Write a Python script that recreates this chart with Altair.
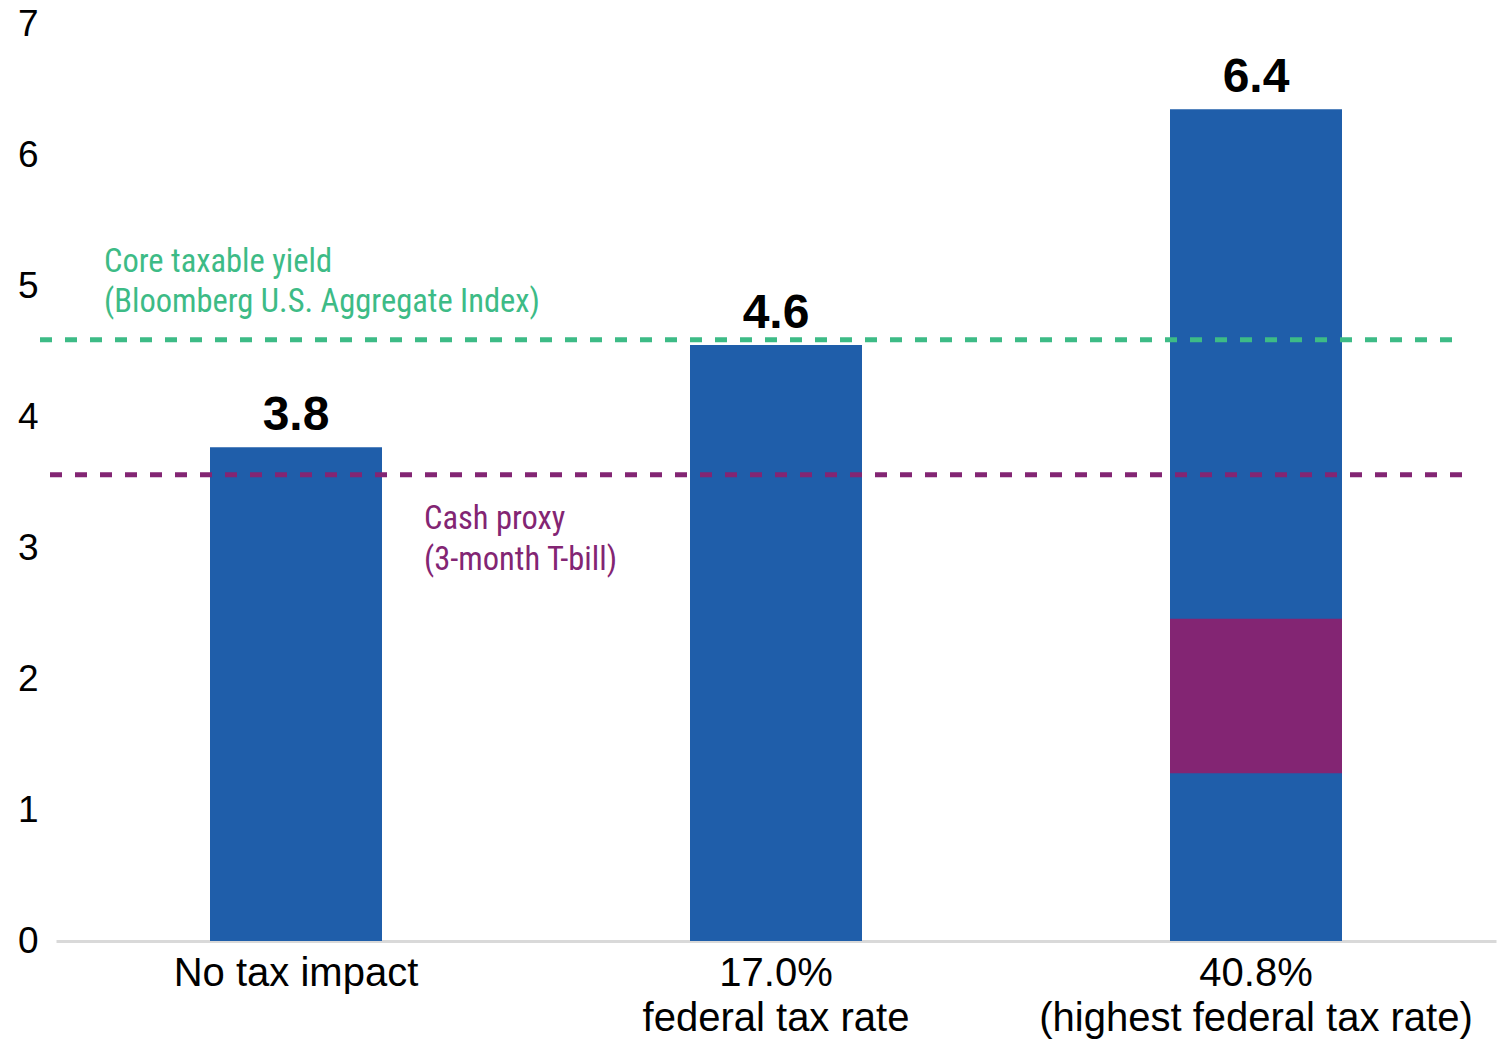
import altair as alt
import pandas as pd

# ---- data ----
categories = ["No tax impact", "17.0%\nfederal tax rate", "40.8%\n(highest federal tax rate)"]
yields = [3.77, 4.55, 6.35]
yield_labels = ["3.8", "4.6", "6.4"]

segment_category = ["40.8%\n(highest federal tax rate)"]
segment_low = [1.28]
segment_high = [2.46]

ref_names = ["Core taxable yield\n(Bloomberg U.S. Aggregate Index)", "Cash proxy\n(3-month T-bill)"]
ref_values = [4.59, 3.56]
y_ticks = [0, 1, 2, 3, 4, 5, 6, 7]

BLUE = "#1F5EAA"
PURPLE = "#832573"
GREEN = "#3DBB86"
NARROW = "'Liberation Sans Narrow', 'Roboto Condensed', 'Arial Narrow', sans-serif"
SANS = "'Liberation Sans', Arial, sans-serif"

bars_df = pd.DataFrame({"cat": categories, "value": yields, "label": yield_labels})
seg_df = pd.DataFrame({"cat": segment_category, "low": segment_low, "high": segment_high})
ref_df = pd.DataFrame({"name": ref_names, "value": ref_values})

x_enc = alt.X(
    "cat:N",
    sort=categories,
    scale=alt.Scale(domain=categories, paddingInner=0, paddingOuter=0),
    axis=alt.Axis(
        title=None, labelAngle=0, ticks=False, grid=False,
        domainColor="#d9d9d9", domainWidth=3,
        labelExpr="split(datum.label, '\\n')",
        labelFont=SANS, labelFontSize=40, labelColor="black", labelLimit=0,
        labelPadding=44, labelBaseline="alphabetic", labelLineHeight=45,
    ),
)
y_scale = alt.Scale(domain=[0, 7], nice=False, zero=True)
y_enc = alt.Y(
    "value:Q", scale=y_scale,
    axis=alt.Axis(
        title=None, values=y_ticks, format="d", ticks=False, domain=False, grid=False,
        labelFont=SANS, labelFontSize=37, labelColor="black", labelPadding=18,
        labelBaseline="middle",
    ),
)

base = alt.Chart(bars_df)
bars = base.mark_bar(size=172, color=BLUE).encode(x=x_enc, y=y_enc)

segment = alt.Chart(seg_df).mark_bar(size=172, color=PURPLE).encode(
    x=alt.X("cat:N", sort=categories),
    y=alt.Y("low:Q", scale=y_scale),
    y2="high:Q",
)

value_text = base.mark_text(
    font=SANS, fontSize=48, fontWeight="bold", color="black",
    baseline="alphabetic", align="center", dy=-17,
).encode(x=alt.X("cat:N", sort=categories), y=alt.Y("value:Q", scale=y_scale), text="label:N")

green_df = ref_df.iloc[[0]]
purple_df = ref_df.iloc[[1]]

green_rule = alt.Chart(green_df).mark_rule(
    color=GREEN, strokeWidth=5, strokeDash=[12, 13]
).encode(y=alt.Y("value:Q", scale=y_scale), x=alt.value(-16), x2=alt.value(1399))

purple_rule = alt.Chart(purple_df).mark_rule(
    color=PURPLE, strokeWidth=5, strokeDash=[12, 13]
).encode(y=alt.Y("value:Q", scale=y_scale), x=alt.value(-6), x2=alt.value(1409))

green_text = alt.Chart(green_df).mark_text(
    font=NARROW, fontSize=32.5, color=GREEN, align="left", baseline="alphabetic",
    lineBreak="\n", lineHeight=40, dy=-68,
).encode(y=alt.Y("value:Q", scale=y_scale), x=alt.value(48), text="name:N")

purple_text = alt.Chart(purple_df).mark_text(
    font=NARROW, fontSize=32.5, color=PURPLE, align="left", baseline="alphabetic",
    lineBreak="\n", lineHeight=41, dy=54,
).encode(y=alt.Y("value:Q", scale=y_scale), x=alt.value(368), text="name:N")

chart = alt.layer(
    bars, segment, green_rule, purple_rule, value_text, green_text, purple_text
).properties(
    width=1440, height=917,
    padding={"left": 56, "top": 24, "right": 4, "bottom": 103},
    autosize=alt.AutoSizeParams(type="none"),
    background="white",
).configure_view(stroke=None, strokeWidth=0)

chart.save("out.html", embed_options={"renderer": "svg", "actions": False})
